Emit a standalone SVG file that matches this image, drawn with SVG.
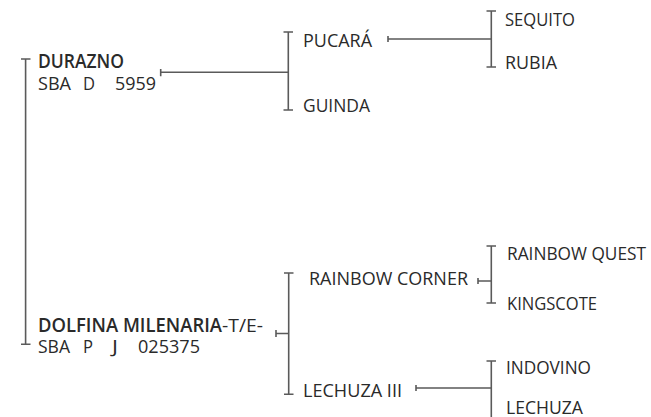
<svg xmlns="http://www.w3.org/2000/svg" width="651" height="417" viewBox="0 0 651 417">
<style>
.t{font-family:"Open Sans","Liberation Sans",sans-serif;font-size:19px;fill:#2a2a2a}
.b{font-weight:600}
.c{stroke:#5a5a5a;stroke-width:1.6;fill:none}
</style>
<rect width="651" height="417" fill="#fff"/>
<g id="connectors" class="c">
<path d="M21 59H30.5M25.6 59V344.3M21 344.3H30.5"/>
<path d="M160.7 69V76.3M160.7 72.3H288.3"/>
<path d="M283.5 32H293M288.3 32V110M283.5 110H293"/>
<path d="M388 36V42M388 39H491.3"/>
<path d="M486.5 11H496M491.3 11V67M486.5 67H496"/>
<path d="M276 330V337M276 333.5H288.7"/>
<path d="M284 273H293.5M288.7 273V394.3M284 394.3H293.5"/>
<path d="M478 278V284M478 281H491.3"/>
<path d="M486.5 246H496M491.3 246V303M486.5 303H496"/>
<path d="M416 385V391M416 388H491.3"/>
<path d="M486.5 361H496M491.3 361V417"/>
</g>
<g id="durazno">
<text class="t b" x="38" y="68" textLength="86" lengthAdjust="spacingAndGlyphs">DURAZNO</text>
<text class="t" x="38" y="89.5" textLength="33" lengthAdjust="spacingAndGlyphs">SBA</text>
<text class="t" x="83" y="89.5" textLength="12" lengthAdjust="spacingAndGlyphs">D</text>
<text class="t" x="115" y="89.5" textLength="41" lengthAdjust="spacingAndGlyphs">5959</text>
</g>
<g id="dolfina">
<text class="t b" x="38" y="331.5" textLength="184" lengthAdjust="spacingAndGlyphs">DOLFINA MILENARIA</text>
<text class="t" x="222" y="331.5" textLength="41" lengthAdjust="spacingAndGlyphs">-T/E-</text>
<text class="t" x="38" y="353" textLength="32" lengthAdjust="spacingAndGlyphs">SBA</text>
<text class="t" x="83" y="353" textLength="10" lengthAdjust="spacingAndGlyphs">P</text>
<text class="t" x="112" y="353" textLength="6" lengthAdjust="spacingAndGlyphs">J</text>
<text class="t" x="138" y="353" textLength="62" lengthAdjust="spacingAndGlyphs">025375</text>
</g>
<g id="pucara"><text class="t" x="303" y="47" textLength="69" lengthAdjust="spacingAndGlyphs">PUCARÁ</text></g>
<g id="guinda"><text class="t" x="303" y="112" textLength="67" lengthAdjust="spacingAndGlyphs">GUINDA</text></g>
<g id="sequito"><text class="t" x="505" y="26" textLength="70" lengthAdjust="spacingAndGlyphs">SEQUITO</text></g>
<g id="rubia"><text class="t" x="505" y="69" textLength="52" lengthAdjust="spacingAndGlyphs">RUBIA</text></g>
<g id="rainbow-corner"><text class="t" x="309" y="285" textLength="159" lengthAdjust="spacingAndGlyphs">RAINBOW CORNER</text></g>
<g id="lechuza-iii"><text class="t" x="303" y="397" textLength="99" lengthAdjust="spacingAndGlyphs">LECHUZA III</text></g>
<g id="rainbow-quest"><text class="t" x="507" y="260" textLength="139" lengthAdjust="spacingAndGlyphs">RAINBOW QUEST</text></g>
<g id="kingscote"><text class="t" x="507" y="310" textLength="90" lengthAdjust="spacingAndGlyphs">KINGSCOTE</text></g>
<g id="indovino"><text class="t" x="506" y="374" textLength="85" lengthAdjust="spacingAndGlyphs">INDOVINO</text></g>
<g id="lechuza"><text class="t" x="506" y="414" textLength="77" lengthAdjust="spacingAndGlyphs">LECHUZA</text></g>
</svg>
